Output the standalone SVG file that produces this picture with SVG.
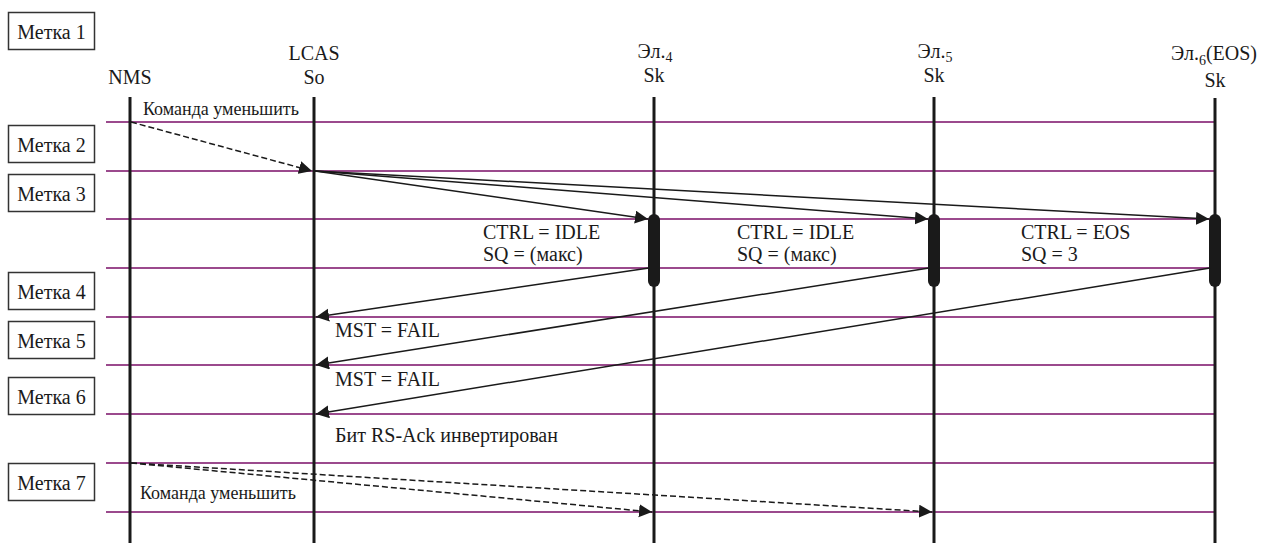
<svg xmlns="http://www.w3.org/2000/svg" width="1262" height="543" viewBox="0 0 1262 543">
<style>
text { font-family: "Liberation Serif", "Times New Roman", serif; fill: #1a1a1a; }
.h { font-size: 20px; text-anchor: middle; }
.lbl { font-size: 20px; }
.sm { font-size: 18px; }
.box rect { fill: #ffffff; stroke: #333333; stroke-width: 1.5; }
.box text { font-size: 20px; text-anchor: middle; }
.life { stroke: #1a1a1a; stroke-width: 3; }
.grid { stroke: #9b4a8d; stroke-width: 2; }
.msg { stroke: #1a1a1a; stroke-width: 1.5; fill: none; marker-end: url(#ah); }
.dash { stroke-dasharray: 6 3; }
.bar { fill: #1a1a1a; }
</style>
<defs>
<marker id="ah" markerUnits="userSpaceOnUse" markerWidth="14" markerHeight="14" refX="13" refY="6.5" orient="auto">
<path d="M0,0 L13,6.5 L0,13 z" fill="#1a1a1a"/>
</marker>
</defs>
<rect width="1262" height="543" fill="#ffffff"/>

<g id="grid-lines">
<line class="grid" x1="106" y1="122" x2="1215" y2="122"/>
<line class="grid" x1="106" y1="171" x2="1215" y2="171"/>
<line class="grid" x1="106" y1="219" x2="1215" y2="219"/>
<line class="grid" x1="106" y1="268" x2="1215" y2="268"/>
<line class="grid" x1="106" y1="317" x2="1215" y2="317"/>
<line class="grid" x1="106" y1="365" x2="1215" y2="365"/>
<line class="grid" x1="106" y1="414" x2="1215" y2="414"/>
<line class="grid" x1="106" y1="463" x2="1215" y2="463"/>
<line class="grid" x1="106" y1="512" x2="1215" y2="512"/>
</g>

<g id="labels">
<g class="box" id="m1"><rect x="8.5" y="12.5" width="86" height="37"/><text x="51.5" y="38.5">Метка 1</text></g>
<g class="box" id="m2"><rect x="8.5" y="125.5" width="86" height="37"/><text x="51.5" y="151.5">Метка 2</text></g>
<g class="box" id="m3"><rect x="8.5" y="174.5" width="86" height="37"/><text x="51.5" y="200.5">Метка 3</text></g>
<g class="box" id="m4"><rect x="8.5" y="272.5" width="86" height="37"/><text x="51.5" y="298.5">Метка 4</text></g>
<g class="box" id="m5"><rect x="8.5" y="321.5" width="86" height="37"/><text x="51.5" y="347.5">Метка 5</text></g>
<g class="box" id="m6"><rect x="8.5" y="377.5" width="86" height="37"/><text x="51.5" y="403.5">Метка 6</text></g>
<g class="box" id="m7"><rect x="8.5" y="463.5" width="86" height="37"/><text x="51.5" y="489.5">Метка 7</text></g>
</g>

<g id="nms">
<text class="h" x="130" y="84">NMS</text>
<line class="life" x1="130" y1="97" x2="130" y2="543"/>
</g>
<g id="lcas">
<text class="h" x="314" y="60">LCAS</text>
<text class="h" x="314" y="84">So</text>
<line class="life" x1="314" y1="97" x2="314" y2="543"/>
</g>
<g id="el4">
<text class="h" x="655" y="58">Эл.<tspan dy="4" font-size="14">4</tspan></text>
<text class="h" x="654" y="82">Sk</text>
<line class="life" x1="654" y1="97" x2="654" y2="543"/>
<rect class="bar" x="648" y="214" width="12" height="73" rx="6"/>
</g>
<g id="el5">
<text class="h" x="935" y="58">Эл.<tspan dy="4" font-size="14">5</tspan></text>
<text class="h" x="934" y="82">Sk</text>
<line class="life" x1="934" y1="97" x2="934" y2="543"/>
<rect class="bar" x="928" y="214" width="12" height="73" rx="6"/>
</g>
<g id="el6">
<text class="h" x="1214" y="60">Эл.<tspan dy="5" font-size="14">6</tspan><tspan dy="-5">(EOS)</tspan></text>
<text class="h" x="1215" y="87">Sk</text>
<line class="life" x1="1215" y1="98" x2="1215" y2="543"/>
<rect class="bar" x="1209" y="214" width="12" height="73" rx="6"/>
</g>

<g id="connectors">
<line class="msg dash" x1="131" y1="122" x2="312" y2="171"/>
<line class="msg" x1="315" y1="171" x2="648" y2="219"/>
<line class="msg" x1="315" y1="171" x2="928" y2="219"/>
<line class="msg" x1="315" y1="171" x2="1209" y2="219"/>
<line class="msg" x1="649" y1="268" x2="316" y2="317"/>
<line class="msg" x1="929" y1="268" x2="316" y2="365"/>
<line class="msg" x1="1210" y1="268" x2="316" y2="414"/>
<line class="msg dash" x1="131" y1="463" x2="652" y2="512"/>
<line class="msg dash" x1="131" y1="463" x2="932" y2="512"/>
</g>

<g id="texts">
<text class="sm" x="143" y="115">Команда уменьшить</text>
<text class="lbl" x="483" y="239">CTRL = IDLE</text>
<text class="lbl" x="483" y="261">SQ = (макс)</text>
<text class="lbl" x="737" y="239">CTRL = IDLE</text>
<text class="lbl" x="737" y="261">SQ = (макс)</text>
<text class="lbl" x="1021" y="239">CTRL = EOS</text>
<text class="lbl" x="1021" y="261">SQ = 3</text>
<text class="lbl" x="335" y="337">MST = FAIL</text>
<text class="lbl" x="335" y="386">MST = FAIL</text>
<text class="lbl" x="335" y="442">Бит RS-Ack инвертирован</text>
<text class="sm" x="140" y="499">Команда уменьшить</text>
</g>
</svg>
